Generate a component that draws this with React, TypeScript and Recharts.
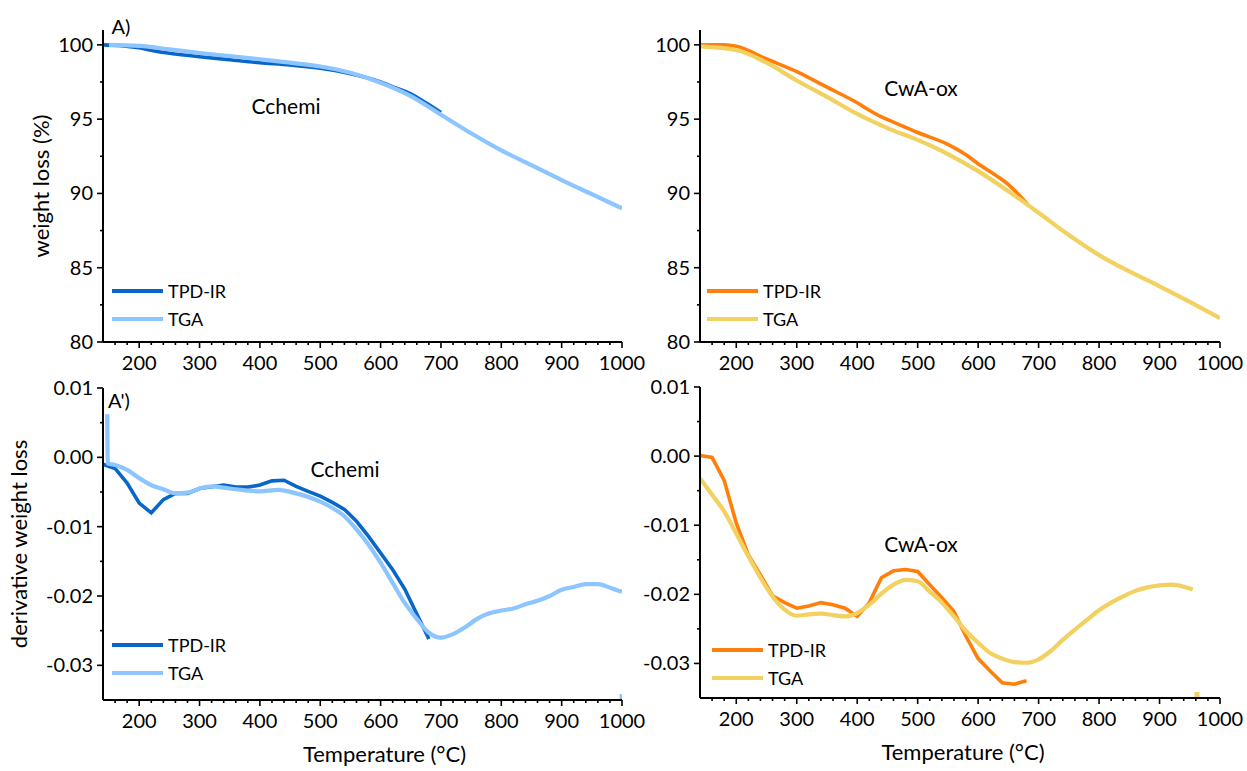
import React from 'react'
import { LineChart, Line, XAxis, YAxis, Legend } from 'recharts'

type Pt = { t: number; v: number }

const FONT = "Lato, 'Open Sans', sans-serif"

const BLUE_DARK = '#0865C9'
const BLUE_LIGHT = '#8CC5FF'
const ORANGE = '#FF7F0A'
const YELLOW = '#F2D160'

// x axis: major ticks carry labels, the rest are minor marks
const X_MAJOR = [200, 300, 400, 500, 600, 700, 800, 900, 1000]
const X_TICKS = [
  160, 180, 200, 220, 240, 260, 280, 300, 320, 340, 360, 380, 400, 420, 440, 460, 480, 500,
  520, 540, 560, 580, 600, 620, 640, 660, 680, 700, 720, 740, 760, 780, 800, 820, 840, 860,
  880, 900, 920, 940, 960, 980, 1000,
]
const W_TICKS = [80, 82.5, 85, 87.5, 90, 92.5, 95, 97.5, 100]
const D_TICKS = [-0.03, -0.025, -0.02, -0.015, -0.01, -0.005, 0, 0.005, 0.01]

// weight loss (%)
const CCHEMI_TPD_W: Pt[] = [
  { t: 140, v: 100.0 }, { t: 170, v: 99.95 }, { t: 200, v: 99.8 }, { t: 230, v: 99.55 },
  { t: 260, v: 99.38 }, { t: 300, v: 99.2 }, { t: 350, v: 99.0 }, { t: 400, v: 98.8 },
  { t: 450, v: 98.65 }, { t: 500, v: 98.42 }, { t: 550, v: 98.05 }, { t: 600, v: 97.5 },
  { t: 625, v: 97.1 }, { t: 650, v: 96.7 }, { t: 675, v: 96.1 }, { t: 700, v: 95.45 },
]
const CCHEMI_TGA_W: Pt[] = [
  { t: 150, v: 100.0 }, { t: 200, v: 99.93 }, { t: 250, v: 99.7 }, { t: 300, v: 99.45 },
  { t: 350, v: 99.25 }, { t: 400, v: 99.03 }, { t: 450, v: 98.8 }, { t: 500, v: 98.54 },
  { t: 550, v: 98.12 }, { t: 600, v: 97.45 }, { t: 650, v: 96.55 }, { t: 700, v: 95.3 },
  { t: 750, v: 94.05 }, { t: 800, v: 92.9 }, { t: 850, v: 91.9 }, { t: 900, v: 90.9 },
  { t: 950, v: 89.95 }, { t: 1000, v: 89.0 },
]
const CWAOX_TPD_W: Pt[] = [
  { t: 140, v: 100.0 }, { t: 180, v: 100.0 }, { t: 200, v: 99.9 }, { t: 250, v: 99.05 },
  { t: 300, v: 98.2 }, { t: 350, v: 97.15 }, { t: 400, v: 96.1 }, { t: 420, v: 95.6 },
  { t: 440, v: 95.15 }, { t: 460, v: 94.8 }, { t: 500, v: 94.1 }, { t: 550, v: 93.3 },
  { t: 580, v: 92.6 }, { t: 600, v: 92.0 }, { t: 630, v: 91.2 }, { t: 650, v: 90.6 },
  { t: 682, v: 89.25 },
]
const CWAOX_TGA_W: Pt[] = [
  { t: 140, v: 99.9 }, { t: 200, v: 99.65 }, { t: 250, v: 98.8 }, { t: 300, v: 97.6 },
  { t: 350, v: 96.5 }, { t: 400, v: 95.35 }, { t: 450, v: 94.4 }, { t: 500, v: 93.6 },
  { t: 550, v: 92.65 }, { t: 600, v: 91.5 }, { t: 650, v: 90.15 }, { t: 700, v: 88.7 },
  { t: 750, v: 87.2 }, { t: 800, v: 85.85 }, { t: 850, v: 84.75 }, { t: 900, v: 83.75 },
  { t: 950, v: 82.7 }, { t: 1000, v: 81.6 },
]

// derivative weight loss
const CCHEMI_TPD_D: Pt[] = [
  { t: 140, v: -0.001 }, { t: 160, v: -0.0016 }, { t: 180, v: -0.0037 }, { t: 200, v: -0.0066 },
  { t: 220, v: -0.008 }, { t: 240, v: -0.0061 }, { t: 260, v: -0.0052 }, { t: 280, v: -0.0052 },
  { t: 300, v: -0.0045 }, { t: 340, v: -0.004 }, { t: 360, v: -0.0043 }, { t: 380, v: -0.0043 },
  { t: 400, v: -0.004 }, { t: 420, v: -0.0034 }, { t: 440, v: -0.0033 }, { t: 460, v: -0.0042 },
  { t: 480, v: -0.0049 }, { t: 500, v: -0.0056 }, { t: 520, v: -0.0065 }, { t: 540, v: -0.0075 },
  { t: 560, v: -0.0092 }, { t: 580, v: -0.0114 }, { t: 600, v: -0.0138 }, { t: 620, v: -0.0162 },
  { t: 640, v: -0.019 }, { t: 660, v: -0.0226 }, { t: 680, v: -0.0262 },
]
const CCHEMI_TGA_D: Pt[] = [
  { t: 147, v: 0.0062 }, { t: 148, v: -0.0009 }, { t: 160, v: -0.0011 }, { t: 180, v: -0.0018 },
  { t: 200, v: -0.003 }, { t: 220, v: -0.004 }, { t: 240, v: -0.0046 }, { t: 260, v: -0.0052 },
  { t: 280, v: -0.0051 }, { t: 300, v: -0.0045 }, { t: 320, v: -0.0042 }, { t: 350, v: -0.0045 },
  { t: 400, v: -0.0049 }, { t: 430, v: -0.0047 }, { t: 460, v: -0.0052 }, { t: 500, v: -0.0064 },
  { t: 520, v: -0.0073 }, { t: 540, v: -0.0085 }, { t: 560, v: -0.0104 }, { t: 580, v: -0.0126 },
  { t: 600, v: -0.0152 }, { t: 620, v: -0.0181 }, { t: 640, v: -0.021 }, { t: 660, v: -0.0233 },
  { t: 680, v: -0.0253 }, { t: 700, v: -0.026 }, { t: 720, v: -0.0255 }, { t: 740, v: -0.0245 },
  { t: 760, v: -0.0233 }, { t: 780, v: -0.0225 }, { t: 800, v: -0.0221 }, { t: 820, v: -0.0218 },
  { t: 840, v: -0.0212 }, { t: 860, v: -0.0207 }, { t: 880, v: -0.02 }, { t: 900, v: -0.0191 },
  { t: 920, v: -0.0187 }, { t: 940, v: -0.0183 }, { t: 960, v: -0.0183 }, { t: 980, v: -0.0188 },
  { t: 1000, v: -0.0194 },
]
const CCHEMI_TGA_TAIL: Pt[] = [{ t: 1000, v: -0.0345 }]
const CWAOX_TPD_D: Pt[] = [
  { t: 140, v: 0.0001 }, { t: 160, v: -0.0002 }, { t: 180, v: -0.0035 }, { t: 200, v: -0.0097 },
  { t: 220, v: -0.0143 }, { t: 240, v: -0.0172 }, { t: 260, v: -0.0202 }, { t: 280, v: -0.0212 },
  { t: 300, v: -0.022 }, { t: 320, v: -0.0217 }, { t: 340, v: -0.0212 }, { t: 360, v: -0.0215 },
  { t: 380, v: -0.022 }, { t: 400, v: -0.0232 }, { t: 420, v: -0.0212 }, { t: 440, v: -0.0176 },
  { t: 460, v: -0.0166 }, { t: 480, v: -0.0164 }, { t: 500, v: -0.0167 }, { t: 520, v: -0.0186 },
  { t: 540, v: -0.0205 }, { t: 560, v: -0.0225 }, { t: 580, v: -0.0261 }, { t: 600, v: -0.0293 },
  { t: 620, v: -0.0311 }, { t: 640, v: -0.0328 }, { t: 660, v: -0.033 }, { t: 680, v: -0.0325 },
]
const CWAOX_TGA_D: Pt[] = [
  { t: 140, v: -0.0032 }, { t: 160, v: -0.0056 }, { t: 180, v: -0.008 }, { t: 200, v: -0.0112 },
  { t: 220, v: -0.0145 }, { t: 240, v: -0.0176 }, { t: 260, v: -0.0203 }, { t: 280, v: -0.0222 },
  { t: 300, v: -0.0231 }, { t: 320, v: -0.0229 }, { t: 340, v: -0.0228 }, { t: 360, v: -0.023 },
  { t: 380, v: -0.0232 }, { t: 400, v: -0.0227 }, { t: 420, v: -0.0215 }, { t: 440, v: -0.0199 },
  { t: 460, v: -0.0186 }, { t: 480, v: -0.0179 }, { t: 500, v: -0.0181 }, { t: 520, v: -0.0196 },
  { t: 540, v: -0.0212 }, { t: 560, v: -0.0232 }, { t: 580, v: -0.0253 }, { t: 600, v: -0.027 },
  { t: 620, v: -0.0285 }, { t: 640, v: -0.0293 }, { t: 660, v: -0.0298 }, { t: 680, v: -0.0299 },
  { t: 700, v: -0.0294 }, { t: 720, v: -0.0282 }, { t: 740, v: -0.0266 }, { t: 760, v: -0.0251 },
  { t: 780, v: -0.0237 }, { t: 800, v: -0.0223 }, { t: 820, v: -0.0212 }, { t: 840, v: -0.0203 },
  { t: 860, v: -0.0195 }, { t: 880, v: -0.019 }, { t: 900, v: -0.0187 }, { t: 920, v: -0.0186 },
  { t: 940, v: -0.0189 }, { t: 955, v: -0.0193 },
]
const CWAOX_TGA_TAIL: Pt[] = [{ t: 962, v: -0.0345 }]

function XTick(props: any) {
  const { x, y, payload } = props
  const major = X_MAJOR.includes(payload.value)
  return (
    <g>
      <line x1={x} y1={y} x2={x} y2={y + (major ? 6 : 3)} stroke="#000" strokeWidth={1.6} />
      {major && (
        <text x={x} y={y + 28} textAnchor="middle" fontSize={20} fill="#000" fontFamily={FONT}>
          {payload.value}
        </text>
      )}
    </g>
  )
}

function WTick(props: any) {
  const { x, y, payload } = props
  const major = payload.value % 5 === 0
  return (
    <g>
      <line x1={x} y1={y} x2={x - (major ? 6 : 3)} y2={y} stroke="#000" strokeWidth={1.6} />
      {major && (
        <text x={x - 10} y={y + 7} textAnchor="end" fontSize={20} fill="#000" fontFamily={FONT}>
          {payload.value}
        </text>
      )}
    </g>
  )
}

function DTick(props: any) {
  const { x, y, payload } = props
  const v = payload.value
  const major = Math.abs(v * 100 - Math.round(v * 100)) < 1e-6
  return (
    <g>
      <line x1={x} y1={y} x2={x - (major ? 6 : 3)} y2={y} stroke="#000" strokeWidth={1.6} />
      {major && (
        <text x={x - 10} y={y + 7} textAnchor="end" fontSize={20} fill="#000" fontFamily={FONT}>
          {v.toFixed(2)}
        </text>
      )}
    </g>
  )
}

function LegendBox({ items }: { items: { name: string; color: string }[] }) {
  return (
    <div style={{ fontFamily: FONT, fontSize: 18, color: '#000' }}>
      {items.map((it) => (
        <div key={it.name} style={{ display: 'flex', alignItems: 'center', height: 28 }}>
          <span style={{ display: 'inline-block', width: 51, height: 4, background: it.color, marginRight: 5 }} />
          <span>{it.name}</span>
        </div>
      ))}
    </div>
  )
}

type PanelProps = {
  left: number
  top: number
  width: number
  height: number
  margin: { top: number; right: number; bottom: number; left: number }
  yWidth: number
  xHeight: number
  deriv: boolean
  tpd: Pt[]
  tga: Pt[]
  tail?: Pt[]
  tpdColor: string
  tgaColor: string
  tpdType: 'monotone' | 'linear'
  legendPos: { left: number; top: number }
  yTitle?: { text: string; offset: number }
  xTitleDx?: number
}

function Panel(p: PanelProps) {
  const axisLine = { stroke: '#000', strokeWidth: 2 }
  return (
    <div style={{ position: 'absolute', left: p.left, top: p.top }}>
      <LineChart width={p.width} height={p.height} margin={p.margin}>
        <XAxis
          dataKey="t"
          type="number"
          domain={[140, 1000]}
          ticks={X_TICKS}
          interval={0}
          allowDataOverflow
          height={p.xHeight}
          axisLine={axisLine}
          tickLine={false}
          tickSize={0}
          tickMargin={0}
          tick={<XTick />}
          label={
            p.xTitleDx !== undefined
              ? { value: 'Temperature (°C)', position: 'insideBottom', offset: 8, dx: p.xTitleDx, style: { fontSize: 22, fill: '#000', fontFamily: FONT } }
              : undefined
          }
        />
        <YAxis
          type="number"
          domain={p.deriv ? [-0.035, 0.01] : [80, 101]}
          ticks={p.deriv ? D_TICKS : W_TICKS}
          interval={0}
          allowDataOverflow
          width={p.yWidth}
          axisLine={axisLine}
          tickLine={false}
          tickSize={0}
          tickMargin={0}
          tick={p.deriv ? <DTick /> : <WTick />}
          label={
            p.yTitle
              ? { value: p.yTitle.text, angle: -90, position: 'insideLeft', offset: p.yTitle.offset, style: { textAnchor: 'middle', fontSize: 22, fill: '#000', fontFamily: FONT } }
              : undefined
          }
        />
        <Line
          data={p.tpd}
          dataKey="v"
          name="TPD-IR"
          type={p.tpdType}
          stroke={p.tpdColor}
          strokeWidth={3.6}
          dot={false}
          activeDot={false}
          isAnimationActive={false}
        />
        <Line
          data={p.tga}
          dataKey="v"
          name="TGA"
          type="monotone"
          stroke={p.tgaColor}
          strokeWidth={4.2}
          dot={false}
          activeDot={false}
          isAnimationActive={false}
        />
        {p.tail && (
          <Line
            data={p.tail}
            dataKey="v"
            name="TGA end"
            stroke={p.tgaColor}
            legendType="none"
            dot={(d: any) => <rect key="tail" x={d.cx - 2.5} y={d.cy - 2.5} width={5} height={5} fill={p.tgaColor} />}
            activeDot={false}
            isAnimationActive={false}
          />
        )}
        <Legend
          layout="horizontal"
          align="center"
          verticalAlign="middle"
          wrapperStyle={{ left: p.legendPos.left, top: p.legendPos.top, width: 'auto' }}
          content={() => (
            <LegendBox
              items={[
                { name: 'TPD-IR', color: p.tpdColor },
                { name: 'TGA', color: p.tgaColor },
              ]}
            />
          )}
        />
      </LineChart>
    </div>
  )
}

const noteStyle = (x: number, y: number, size: number): React.CSSProperties => ({
  position: 'absolute',
  left: x,
  top: y,
  transform: 'translate(-50%, -50%)',
  fontFamily: FONT,
  fontSize: size,
  lineHeight: 1,
  color: '#000',
  whiteSpace: 'nowrap',
})

export default function App() {
  return (
    <div style={{ position: 'absolute', left: 0, top: 0, width: 1247, height: 771, background: '#fff', overflow: 'hidden' }}>
      <Panel
        left={0} top={0} width={660} height={385}
        margin={{ top: 30, right: 38, bottom: 15, left: 0 }}
        yWidth={103} xHeight={28} deriv={false}
        tpd={CCHEMI_TPD_W} tga={CCHEMI_TGA_W}
        tpdColor={BLUE_DARK} tgaColor={BLUE_LIGHT} tpdType="monotone"
        legendPos={{ left: 112, top: 277 }}
        yTitle={{ text: 'weight loss (%)', offset: 41 }}
      />
      <Panel
        left={640} top={0} width={607} height={385}
        margin={{ top: 30, right: 27, bottom: 15, left: 0 }}
        yWidth={60} xHeight={28} deriv={false}
        tpd={CWAOX_TPD_W} tga={CWAOX_TGA_W}
        tpdColor={ORANGE} tgaColor={YELLOW} tpdType="monotone"
        legendPos={{ left: 67, top: 277 }}
      />
      <Panel
        left={0} top={370} width={660} height={401}
        margin={{ top: 18, right: 38, bottom: 1, left: 0 }}
        yWidth={103} xHeight={70} deriv
        tpd={CCHEMI_TPD_D} tga={CCHEMI_TGA_D} tail={CCHEMI_TGA_TAIL}
        tpdColor={BLUE_DARK} tgaColor={BLUE_LIGHT} tpdType="linear"
        legendPos={{ left: 112, top: 261 }}
        yTitle={{ text: 'derivative weight loss', offset: 19 }}
        xTitleDx={22}
      />
      <Panel
        left={640} top={370} width={607} height={401}
        margin={{ top: 17, right: 27, bottom: 3, left: 0 }}
        yWidth={60} xHeight={70} deriv
        tpd={CWAOX_TPD_D} tga={CWAOX_TGA_D} tail={CWAOX_TGA_TAIL}
        tpdColor={ORANGE} tgaColor={YELLOW} tpdType="linear"
        legendPos={{ left: 72, top: 266 }}
        xTitleDx={3}
      />
      <div style={noteStyle(121, 26, 20)}>A)</div>
      <div style={noteStyle(286, 105, 21)}>Cchemi</div>
      <div style={noteStyle(921, 87, 21)}>CwA-ox</div>
      <div style={noteStyle(119, 400, 20)}>A')</div>
      <div style={noteStyle(345, 468, 21)}>Cchemi</div>
      <div style={noteStyle(921, 543, 21)}>CwA-ox</div>
    </div>
  )
}
